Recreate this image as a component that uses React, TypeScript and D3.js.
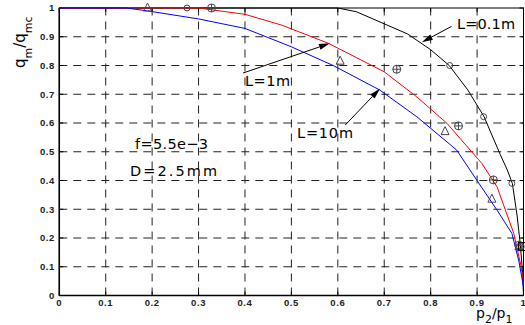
import React from "react";
import * as d3 from "d3";

// curves (p2/p1 -> qm/qmc)
const blackX = [0, 0.6, 0.64, 0.7, 0.75, 0.8, 0.84, 0.88, 0.915, 0.95, 0.965, 0.976, 0.986, 0.993, 0.998, 1];
const blackY = [1, 1, 0.987, 0.945, 0.91, 0.855, 0.8, 0.715, 0.622, 0.49, 0.437, 0.39, 0.28, 0.18, 0.08, 0];
const redX = [0, 0.3, 0.4, 0.48, 0.58, 0.7, 0.77, 0.835, 0.885, 0.91, 0.943, 0.979, 0.995, 1];
const redY = [1, 1, 0.978, 0.94, 0.877, 0.778, 0.691, 0.599, 0.506, 0.46, 0.378, 0.216, 0.1, 0.04];
const blueX = [0, 0.145, 0.19, 0.3, 0.4, 0.5, 0.59, 0.69, 0.77, 0.856, 0.899, 0.943, 0.975, 0.99, 1];
const blueY = [1, 1, 0.99, 0.962, 0.929, 0.865, 0.8, 0.715, 0.622, 0.506, 0.402, 0.297, 0.216, 0.12, 0.03];

// measured points
const triX = [0.19, 0.605, 0.831, 0.932, 0.99];
const triY = [1.0, 0.815, 0.57, 0.335, 0.17];
const plusX = [0.328, 0.727, 0.86, 0.935, 0.99];
const plusY = [1.0, 0.787, 0.59, 0.402, 0.175];
const circX = [0.275, 0.841, 0.914, 0.975, 0.995];
const circY = [1.0, 0.8, 0.622, 0.39, 0.17];
const squareX = [0.998];
const squareY = [0.17];

const xTicks = [0, 0.1, 0.2, 0.3, 0.4, 0.5, 0.6, 0.7, 0.8, 0.9, 1];
const yTicks = [0, 0.1, 0.2, 0.3, 0.4, 0.5, 0.6, 0.7, 0.8, 0.9, 1];

const W = 525;
const H = 325;
const font = "'Liberation Sans', Arial, sans-serif";
const wide = "'DejaVu Sans', Verdana, sans-serif";

export default function App() {
  const x = d3.scaleLinear().domain([0, 1]).range([59.3, 523.5]);
  const y = d3.scaleLinear().domain([0, 1]).range([295.5, 8]);

  const line = d3.line<number>();
  const path = (xs: number[], ys: number[]) =>
    line(xs.map((v, i) => [x(v), y(ys[i])] as [number, number])) || "";

  const arrow = (x1: number, y1: number, x2: number, y2: number) => {
    // line from (x1,y1) to arrowhead at (x2,y2), in data units
    const ax = x(x1), ay = y(y1), bx = x(x2), by = y(y2);
    const ang = Math.atan2(by - ay, bx - ax);
    const len = 11, wd = 3;
    const px = bx - len * Math.cos(ang), py = by - len * Math.sin(ang);
    const nx = -Math.sin(ang) * wd, ny = Math.cos(ang) * wd;
    return (
      <g>
        <line x1={ax} y1={ay} x2={px} y2={py} stroke="#000" strokeWidth={1} />
        <polygon points={`${bx},${by} ${px + nx},${py + ny} ${px - nx},${py - ny}`} fill="#000" />
      </g>
    );
  };

  const markColor = "#444";
  const note = (tx: number, ty: number, w: number, s: string) => (
    <text x={tx} y={ty} fontSize={14.5} fontFamily={wide} fill="#000" textLength={w} lengthAdjust="spacing">
      {s}
    </text>
  );

  return (
    <svg width={W} height={H} style={{ position: "absolute", left: 0, top: 0, background: "#fff" }}>
      {/* grid */}
      {xTicks.slice(1, -1).map((t) => (
        <line key={"gx" + t} x1={x(t)} x2={x(t)} y1={y(0)} y2={y(1)} stroke="#222" strokeDasharray="8,6" strokeWidth={1} />
      ))}
      {yTicks.slice(1, -1).map((t) => (
        <line key={"gy" + t} x1={x(0)} x2={x(1)} y1={y(t)} y2={y(t)} stroke="#222" strokeDasharray="8,6" strokeWidth={1} />
      ))}
      {/* frame */}
      <rect x={x(0)} y={y(1)} width={x(1) - x(0)} height={y(0) - y(1)} fill="none" stroke="#000" strokeWidth={1} />
      <line x1={x(0)} x2={x(0)} y1={y(0)} y2={y(1)} stroke="#000" strokeWidth={1.5} />
      <line x1={x(0)} x2={x(1)} y1={y(0)} y2={y(0)} stroke="#000" strokeWidth={1.5} />

      {/* ticks */}
      {xTicks.map((t) => (
        <g key={"tx" + t}>
          <line x1={x(t)} x2={x(t)} y1={y(0)} y2={y(0) - 4} stroke="#000" />
          <line x1={x(t)} x2={x(t)} y1={y(1)} y2={y(1) + 4} stroke="#000" />
          <text x={x(t)} y={305.5} textAnchor="middle" fontSize={9.5} fontWeight="bold" fontFamily={font} fill="#222" letterSpacing={0.6}>
            {String(t)}
          </text>
        </g>
      ))}
      {yTicks.map((t) => (
        <g key={"ty" + t}>
          <line x1={x(0)} x2={x(0) + 4} y1={y(t)} y2={y(t)} stroke="#000" />
          <line x1={x(1)} x2={x(1) - 4} y1={y(t)} y2={y(t)} stroke="#000" />
          <text x={55} y={y(t) + 3.3} textAnchor="end" fontSize={9.5} fontWeight="bold" fontFamily={font} fill="#222" letterSpacing={0.6}>
            {String(t)}
          </text>
        </g>
      ))}

      {/* curves */}
      <path d={path(blackX, blackY)} fill="none" stroke="#000" strokeWidth={1} />
      <path d={path(redX, redY)} fill="none" stroke="#f00" strokeWidth={1} />
      <path d={path(blueX, blueY)} fill="none" stroke="#00f" strokeWidth={1} />

      {/* markers */}
      {triX.map((v, i) => {
        const cx = x(v), cy = y(triY[i]);
        return (
          <polygon key={"tr" + i} points={`${cx},${cy - 5} ${cx - 4},${cy + 3} ${cx + 4},${cy + 3}`} fill="none" stroke={markColor} strokeWidth={1} />
        );
      })}
      {plusX.map((v, i) => {
        const cx = x(v), cy = y(plusY[i]);
        return (
          <g key={"pl" + i} stroke={markColor} strokeWidth={1} fill="none">
            <circle cx={cx} cy={cy} r={4} />
            <line x1={cx - 4} x2={cx + 4} y1={cy} y2={cy} />
            <line x1={cx} x2={cx} y1={cy - 4} y2={cy + 4} />
          </g>
        );
      })}
      {circX.map((v, i) => (
        <circle key={"ci" + i} cx={x(v)} cy={y(circY[i])} r={3} fill="none" stroke={markColor} strokeWidth={1} />
      ))}
      {squareX.map((v, i) => (
        <rect key={"sq" + i} x={x(v) - 4} y={y(squareY[i]) - 4} width={8} height={8} fill="none" stroke="#000" strokeWidth={1} />
      ))}

      {/* annotations */}
      {arrow(0.845, 0.936, 0.781, 0.881)}
      {note(457, 29, 58, "L=0.1m")}
      {arrow(0.396, 0.774, 0.583, 0.877)}
      {note(245, 86, 45, "L=1m")}
      {arrow(0.616, 0.593, 0.691, 0.72)}
      {note(297, 138, 56, "L=10m")}
      {note(135, 148.5, 73, "f=5.5e−3")}
      {note(130, 175.5, 87, "D=2.5mm")}

      {/* axis labels */}
      <text x={476} y={318} fontSize={14} fontFamily={wide} fill="#000">
        p<tspan fontSize={11} dy={5}>2</tspan>
        <tspan dy={-5}>/p</tspan>
        <tspan fontSize={11} dy={5}>1</tspan>
      </text>
      <text transform="translate(25,68) rotate(-90)" fontSize={15} fontFamily={wide} fill="#000">
        q<tspan fontSize={11} dy={7}>m</tspan>
        <tspan dy={-7}>/q</tspan>
        <tspan fontSize={11} dy={7}>mc</tspan>
      </text>
    </svg>
  );
}
